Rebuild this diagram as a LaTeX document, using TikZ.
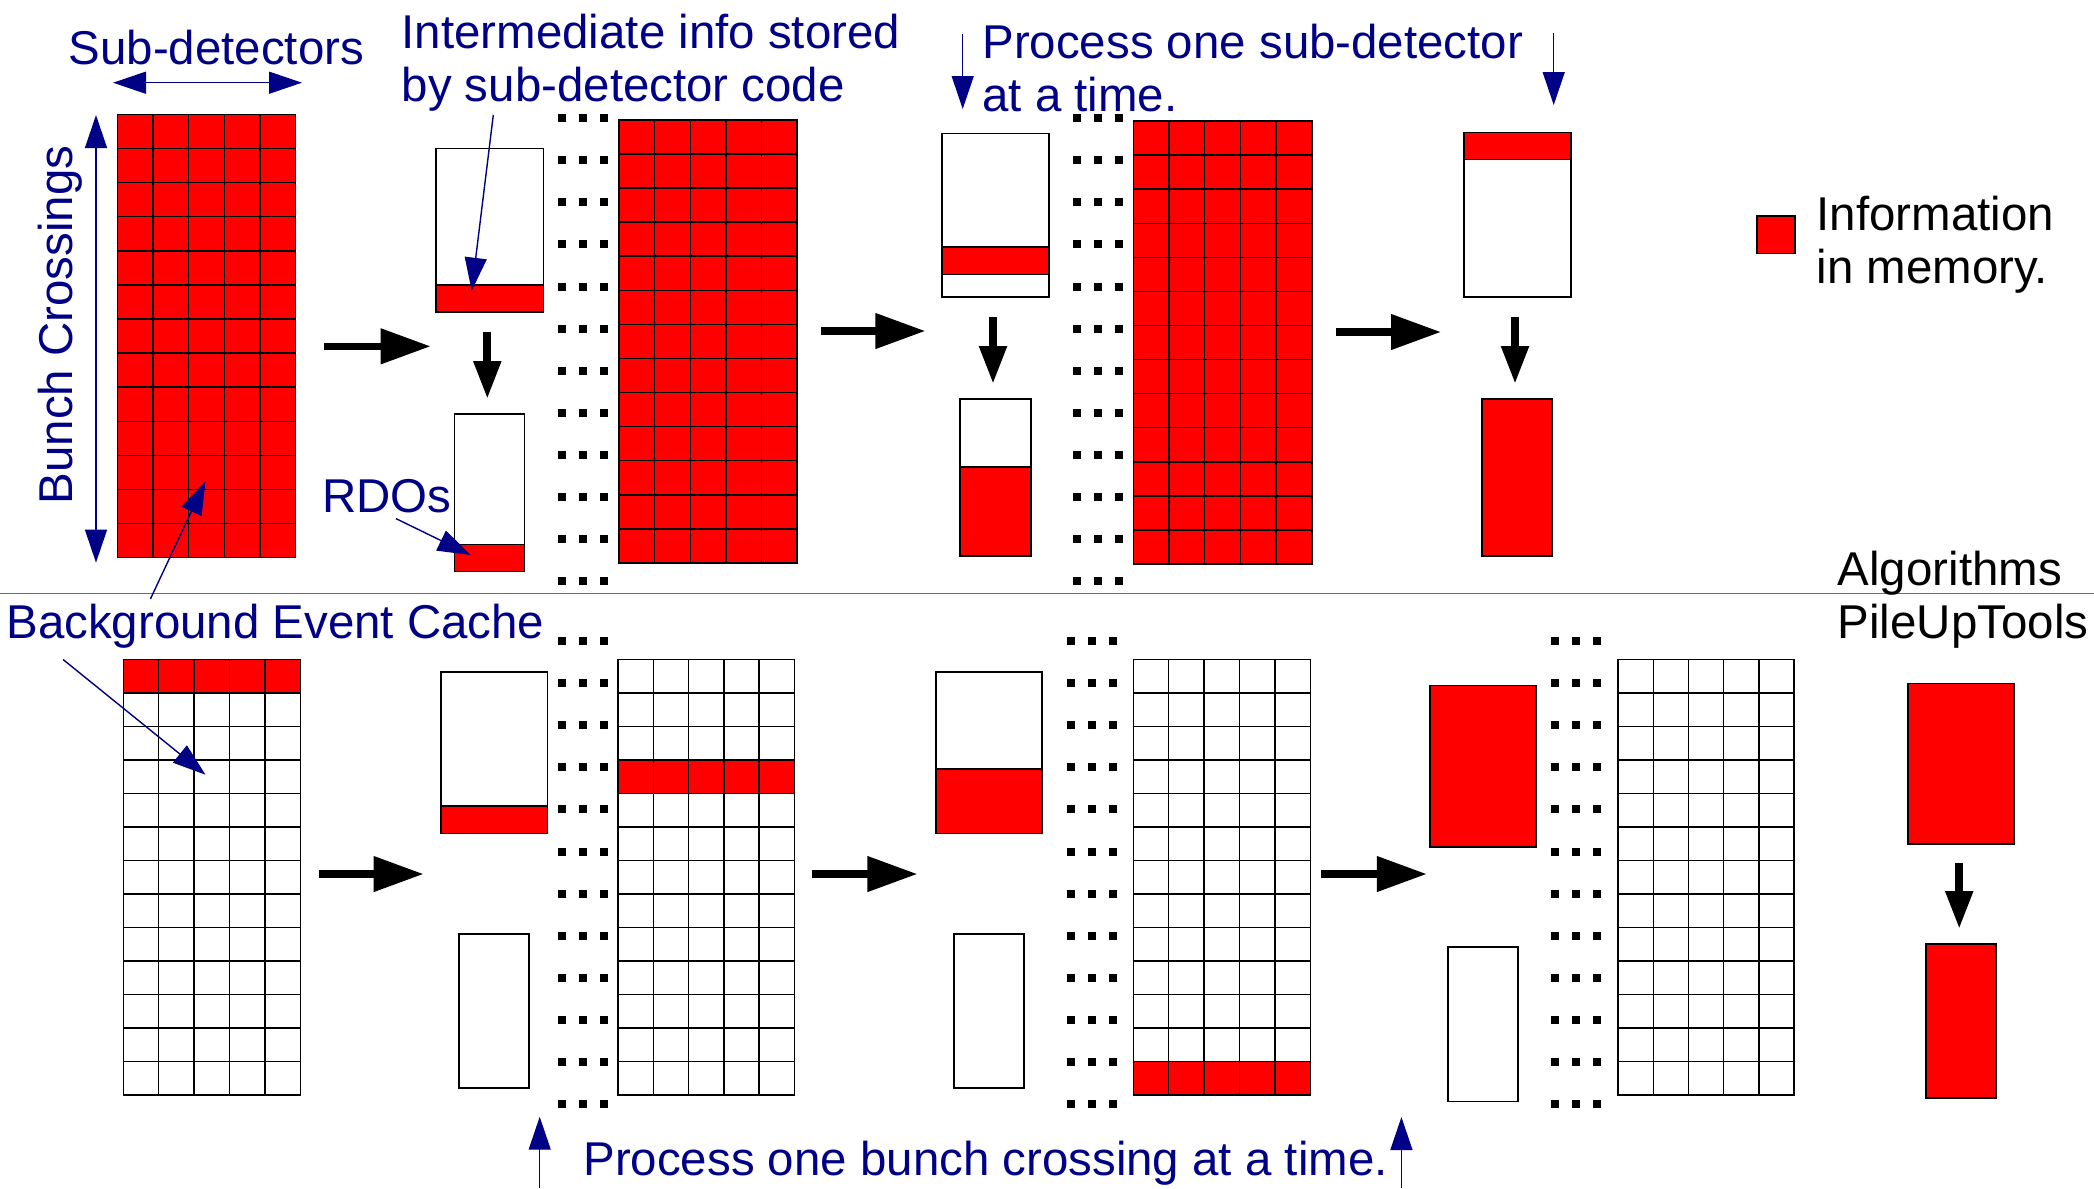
\documentclass[tikz,border=0pt]{standalone}
\usepackage{fontspec}
\setmainfont{Liberation Sans}
\usetikzlibrary{arrows.meta}

\definecolor{infored}{RGB}{255,0,0}
\definecolor{labelblue}{RGB}{0,0,135}
\definecolor{rulegray}{RGB}{110,110,110}

% memory grid: 13 bunch crossings x 5 sub-detectors
% #1 name, #2 left, #3 top, #4 cell width, #5 cell height, #6-#7 red rows
\newcommand{\memgrid}[7]{%
    \foreach \r in {1,...,13}{
        \foreach \c in {1,...,5}{
            \ifnum\r<#6 \def\cellfill{white}\else
                \ifnum\r>#7 \def\cellfill{white}\else\def\cellfill{infored}\fi
            \fi
            \node[cell, fill=\cellfill, minimum width=#4cm, minimum height=#5cm]
                (#1-\r-\c) at ({#2+(\c-1)*#4},{#3-(\r-1)*#5}) {};
        }
    }
}

% column of "..." marks
\newcommand{\dotcol}[3]{%
    \foreach \k in {0,...,11}{
        \foreach \d in {0,1,2}{
            \fill ({#1+\d*0.21-0.04},{#2-\k*#3-0.04}) rectangle ++(0.08,0.08);
        }
    }
}

\begin{document}
\begin{tikzpicture}[
        cell/.style={
            draw,
            line width=0.4pt,
            inner sep=0pt,
            outer sep=0pt,
            anchor=north west,
        },
        membox/.style={
            draw,
            fill=white,
            line width=0.45pt,
            inner sep=0pt,
            outer sep=0pt,
            anchor=north west,
        },
        redpart/.style={
            membox,
            fill=infored,
        },
        flow/.style={
            line width=2.1pt,
            -{Triangle[length=0.5cm, width=0.34cm]},
        },
        drop/.style={
            line width=2.3pt,
            -{Triangle[length=0.38cm, width=0.26cm]},
        },
        pointer/.style={
            labelblue,
            line width=0.4pt,
            -{Triangle[length=0.33cm, width=0.22cm]},
        },
        span/.style={
            labelblue,
            line width=0.4pt,
            {Triangle[length=0.33cm, width=0.22cm]}-{Triangle[length=0.33cm, width=0.22cm]},
        },
        bluetext/.style={
            labelblue,
            inner sep=0pt,
            anchor=base west,
            align=left,
            font=\fontsize{13.5}{15}\selectfont,
        },
        blacktext/.style={
            bluetext,
            black,
        },
    ]

    \useasboundingbox (0,0) rectangle (20.94,-11.88);

    % separator between the two schemes
    \draw [rulegray, line width=0.5pt] (0,-5.935) -- (20.94,-5.935);

    % grids
    \memgrid{sg1}{1.175}{-1.145}{0.356}{0.3408}{1}{13}
    \memgrid{sg2}{6.19}{-1.198}{0.356}{0.3409}{1}{13}
    \memgrid{sg3}{11.332}{-1.21}{0.3572}{0.3408}{1}{13}
    \memgrid{bg1}{1.234}{-6.595}{0.3536}{0.335}{1}{1}
    \memgrid{bg2}{6.18}{-6.595}{0.3528}{0.335}{4}{4}
    \memgrid{bg3}{11.332}{-6.595}{0.354}{0.335}{13}{13}
    \memgrid{bg4}{16.18}{-6.595}{0.3522}{0.335}{14}{13}

    % dots
    \dotcol{5.62}{-1.183}{0.4205}
    \dotcol{10.77}{-1.183}{0.4205}
    \dotcol{5.62}{-6.41}{0.421}
    \dotcol{10.706}{-6.41}{0.421}
    \dotcol{15.55}{-6.41}{0.421}

    % buffers, top
    \node (ib1) at (4.36,-1.485) [membox, minimum width=1.073cm, minimum height=1.635cm] {};
    \node (ib1r) at (ib1.south west) [redpart, anchor=south west, minimum width=1.073cm, minimum height=0.273cm] {};
    \node (rdo1) at (4.546,-4.14) [membox, minimum width=0.70cm, minimum height=1.574cm] {};
    \node (rdo1r) at (rdo1.south west) [redpart, anchor=south west, minimum width=0.70cm, minimum height=0.268cm] {};
    \node (ib2) at (9.42,-1.336) [membox, minimum width=1.07cm, minimum height=1.634cm] {};
    \node (ib2r) at (9.42,-2.468) [redpart, minimum width=1.07cm, minimum height=0.276cm] {};
    \node (rdo2) at (9.60,-3.99) [membox, minimum width=0.71cm, minimum height=1.57cm] {};
    \node (rdo2r) at (rdo2.south west) [redpart, anchor=south west, minimum width=0.71cm, minimum height=0.89cm] {};
    \node (ib3) at (14.64,-1.324) [membox, minimum width=1.07cm, minimum height=1.646cm] {};
    \node (ib3r) at (ib3.north west) [redpart, minimum width=1.07cm, minimum height=0.272cm] {};
    \node (rdo3) at (14.82,-3.99) [redpart, minimum width=0.70cm, minimum height=1.57cm] {};

    % buffers, bottom
    \node (ib4) at (4.41,-6.72) [membox, minimum width=1.066cm, minimum height=1.616cm] {};
    \node (ib4r) at (ib4.south west) [redpart, anchor=south west, minimum width=1.066cm, minimum height=0.276cm] {};
    \node (rdo4) at (4.59,-9.337) [membox, minimum width=0.70cm, minimum height=1.543cm] {};
    \node (ib5) at (9.357,-6.72) [membox, minimum width=1.063cm, minimum height=1.616cm] {};
    \node (ib5r) at (ib5.south west) [redpart, anchor=south west, minimum width=1.063cm, minimum height=0.646cm] {};
    \node (rdo5) at (9.54,-9.337) [membox, minimum width=0.70cm, minimum height=1.543cm] {};
    \node (ib6) at (14.30,-6.855) [redpart, minimum width=1.06cm, minimum height=1.615cm] {};
    \node (rdo6) at (14.48,-9.47) [membox, minimum width=0.70cm, minimum height=1.546cm] {};
    \node (alg1) at (19.077,-6.833) [redpart, minimum width=1.063cm, minimum height=1.604cm] {};
    \node (alg2) at (19.26,-9.44) [redpart, minimum width=0.70cm, minimum height=1.54cm] {};

    % legend
    \node (key) at (17.567,-2.157) [redpart, minimum width=0.383cm, minimum height=0.376cm] {};
    \node (info) at (18.16,-2.833) [blacktext] {Information\\in memory.};

    % texts
    \node (subdet) at (0.68,-0.64) [bluetext] {Sub-detectors};
    \node (bunch) at (0.72,-5.05) [bluetext, rotate=90] {Bunch Crossings};
    \node (interm) at (4.01,-1.017) [bluetext] {Intermediate info stored\\by sub-detector code};
    \node (rdos) at (3.214,-5.128) [bluetext] {RDOs};
    \node (procsd) at (9.817,-1.11) [bluetext] {Process one sub-detector\\at a time.};
    \node (bgcache) at (0.057,-6.38) [bluetext] {Background Event Cache};
    \node (procbc) at (5.827,-11.75) [bluetext] {Process one bunch crossing at a time.};
    \node (algs) at (18.37,-5.85) [blacktext] {Algorithms};
    \node (pileup) at (18.37,-6.383) [blacktext] {PileUpTools};

    % arrow ends
    \coordinate (sdl) at (1.13,-0.827);
    \coordinate (sdr) at (3.02,-0.827);
    \coordinate (bct) at (0.96,-1.15);
    \coordinate (bcb) at (0.96,-5.626);
    \coordinate (intail) at (4.933,-1.15);
    \coordinate (intip) at (4.717,-2.907);
    \coordinate (rdtail) at (3.96,-5.186);
    \coordinate (rdtip) at (4.707,-5.55);
    \coordinate (bgtail1) at (1.504,-5.99);
    \coordinate (bgtip1) at (2.055,-4.814);
    \coordinate (bgtail2) at (0.631,-6.595);
    \coordinate (bgtip2) at (2.055,-7.747);
    \coordinate (ps1) at (9.627,-0.34);
    \coordinate (pe1) at (9.627,-1.09);
    \coordinate (ps2) at (15.537,-0.325);
    \coordinate (pe2) at (15.537,-1.05);
    \coordinate (pb1) at (5.397,-11.88);
    \coordinate (pt1) at (5.397,-11.167);
    \coordinate (pb2) at (14.014,-11.88);
    \coordinate (pt2) at (14.014,-11.17);

    \coordinate (f1a) at (3.24,-3.463);
    \coordinate (f1b) at (4.307,-3.463);
    \coordinate (f2a) at (8.21,-3.31);
    \coordinate (f2b) at (9.254,-3.31);
    \coordinate (f3a) at (13.356,-3.32);
    \coordinate (f3b) at (14.41,-3.32);
    \coordinate (f4a) at (3.186,-8.74);
    \coordinate (f4b) at (4.236,-8.74);
    \coordinate (f5a) at (8.122,-8.74);
    \coordinate (f5b) at (9.174,-8.74);
    \coordinate (f6a) at (13.213,-8.74);
    \coordinate (f6b) at (14.268,-8.74);

    \coordinate (d1a) at (4.873,-3.32);
    \coordinate (d1b) at (4.873,-3.99);
    \coordinate (d2a) at (9.93,-3.17);
    \coordinate (d2b) at (9.93,-3.84);
    \coordinate (d3a) at (15.15,-3.17);
    \coordinate (d3b) at (15.15,-3.84);
    \coordinate (d4a) at (19.592,-8.63);
    \coordinate (d4b) at (19.592,-9.29);

    \draw [span] (sdl) -- (sdr);
    \draw [span] (bcb) -- (bct);
    \draw [pointer] (intail) -- (intip);
    \draw [pointer] (rdtail) -- (rdtip);
    \draw [pointer] (bgtail1) -- (bgtip1);
    \draw [pointer] (bgtail2) -- (bgtip2);
    \draw [pointer] (ps1) -- (pe1);
    \draw [pointer] (ps2) -- (pe2);
    \draw [pointer] (pb1) -- (pt1);
    \draw [pointer] (pb2) -- (pt2);

    \draw [flow] (f1a) -- (f1b);
    \draw [flow] (f2a) -- (f2b);
    \draw [flow] (f3a) -- (f3b);
    \draw [flow] (f4a) -- (f4b);
    \draw [flow] (f5a) -- (f5b);
    \draw [flow] (f6a) -- (f6b);

    \draw [drop] (d1a) -- (d1b);
    \draw [drop] (d2a) -- (d2b);
    \draw [drop] (d3a) -- (d3b);
    \draw [drop] (d4a) -- (d4b);

\end{tikzpicture}
\end{document}
